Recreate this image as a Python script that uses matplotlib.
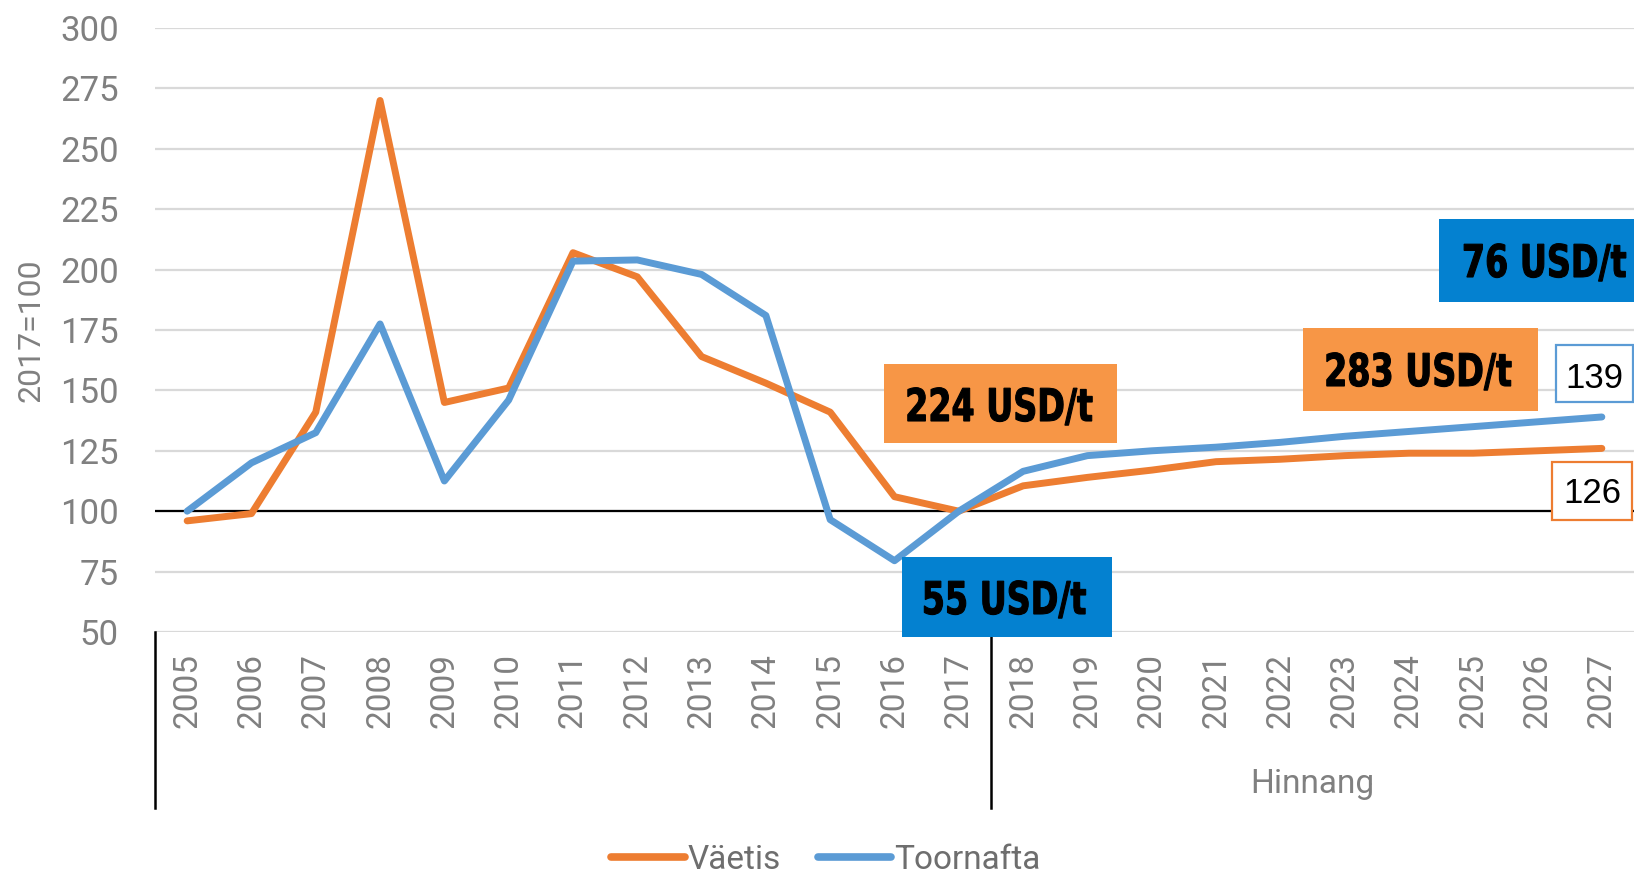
import matplotlib.pyplot as plt
from matplotlib.patches import Rectangle, PathPatch
from matplotlib.lines import Line2D
from matplotlib.textpath import TextPath
from matplotlib.transforms import Affine2D
from matplotlib.font_manager import FontProperties
from matplotlib import font_manager as fm

# data (index 2017 = 100)
years = [str(y) for y in range(2005, 2028)]
vaetis = [96, 99, 141, 270, 145, 151, 207, 197, 164, 153, 141, 106, 100,
          110.5, 114, 117, 120.5, 121.5, 123, 124, 124, 125, 126]
toornafta = [100, 120, 132.5, 177.5, 112.5, 146, 203.5, 204, 198, 181, 96.5, 79.5, 100,
             116.5, 123, 125, 126.5, 128.5, 131, 133, 135, 137, 139]
series_names = ["Väetis", "Toornafta"]
forecast_label = "Hinnang"
y_label = "2017=100"
price_labels = ["224 USD/t", "55 USD/t", "283 USD/t", "76 USD/t"]
end_labels = ["139", "126"]

ORANGE = "#ED7D31"
BLUE = "#5B9BD5"
ORANGE_BOX = "#F79646"
BLUE_BOX = "#0481D0"
GRAY = "#808080"

names = {f.name for f in fm.fontManager.ttflist}
light = "Roboto" if "Roboto" in names else "DejaVu Sans"

W, H = 1634, 877
fig = plt.figure(figsize=(W / 100, H / 100), dpi=100)
ax = fig.add_axes([155 / W, 1 - 632 / H, 1 - 155 / W, (632 - 28) / H])

x = list(range(len(years)))
ax.plot(x, vaetis, color=ORANGE, lw=5, solid_capstyle="round", solid_joinstyle="round",
        label=series_names[0], zorder=3)
ax.plot(x, toornafta, color=BLUE, lw=5, solid_capstyle="round", solid_joinstyle="round",
        label=series_names[1], zorder=4)
ax.axhline(100, color="black", lw=1.6, zorder=2)

ax.set_xlim(-0.5, len(years) - 0.5)
ax.set_ylim(50, 300)
ax.set_yticks(range(50, 301, 25))
ax.yaxis.grid(True, color="#D9D9D9", lw=1.6)
ax.set_axisbelow(True)
for s in ax.spines.values():
    s.set_visible(False)

ax.set_xticks(x)
ax.set_xticklabels(years, rotation=90, ha="center", va="top")
ax.tick_params(axis="x", length=0, pad=15, labelsize=24, labelcolor=GRAY)
ax.tick_params(axis="y", length=0, pad=26, labelsize=25, labelcolor=GRAY)
for lab in ax.get_xticklabels() + ax.get_yticklabels():
    lab.set_family(light)

# category group separators below the axis
xt = ax.get_xaxis_transform()
for xv in (-0.5, 12.5):
    ax.add_line(Line2D([xv, xv], [0, -0.291], transform=xt, color="black", lw=1.8, clip_on=False))
ax.text(17.5, -0.252, forecast_label, transform=xt, ha="center", va="center",
        fontsize=24, color=GRAY, family=light)

fig.text(31 / W, 1 - 330 / H, y_label, rotation=90, ha="center", va="center",
         fontsize=23, color=GRAY, family=light)


def box(x0, y0, x1, y1, face, edge, lw):
    fig.add_artist(Rectangle((x0 / W, 1 - y1 / H), (x1 - x0) / W, (y1 - y0) / H,
                             transform=fig.transFigure, facecolor=face, edgecolor=edge,
                             lw=lw, zorder=10))


bold_fp = FontProperties(family="DejaVu Sans", weight="bold")


def narrow_label(xc, base, text, em=45, squeeze=0.74):
    # condensed bold text: squeeze a bold path horizontally
    tp = TextPath((0, 0), text, size=em, prop=bold_fp)
    ext = tp.get_extents()
    wpx = ext.width * squeeze
    tr = (Affine2D().translate(-ext.x0, 0).scale(squeeze, 1)
          .translate(xc - wpx / 2, H - base).scale(1 / W, 1 / H) + fig.transFigure)
    fig.add_artist(PathPatch(tp, transform=tr, facecolor="black", edgecolor="black",
                             lw=0.8, zorder=11))


def label(xc, base, text, size):
    fig.text(xc / W, 1 - base / H, text, ha="center", va="baseline", fontsize=size,
             family="Liberation Sans", color="black", zorder=11)


# price boxes
box(884, 364, 1117, 443, ORANGE_BOX, "none", 0)
narrow_label(1000, 421, price_labels[0])
box(902, 557, 1112, 637, BLUE_BOX, "none", 0)
narrow_label(1005, 614, price_labels[1])
box(1303, 328, 1538, 411, ORANGE_BOX, "none", 0)
narrow_label(1419, 386, price_labels[2])
box(1439, 219, 1640, 302, BLUE_BOX, "none", 0)
narrow_label(1545, 277, price_labels[3])

# end value boxes
box(1556, 345, 1633, 402, "white", BLUE, 1.6)
label(1594, 388, end_labels[0], 25)
box(1552, 462, 1632, 520, "white", ORANGE, 1.6)
label(1592, 503, end_labels[1], 25)

leg = fig.legend(loc="center", bbox_to_anchor=(826 / W, 1 - 860 / H), ncol=2, frameon=False,
                 handlelength=2.2, handletextpad=0.1, columnspacing=1.1,
                 prop={"family": light, "size": 24}, labelcolor="#6E6E6E")
for h in leg.legend_handles:
    h.set_linewidth(5.5)

fig.savefig("out.png", dpi=100)
